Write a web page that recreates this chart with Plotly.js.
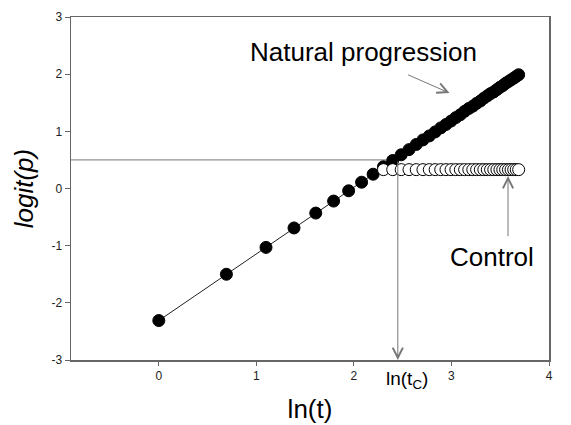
<!DOCTYPE html>
<html>
<head>
<meta charset="utf-8">
<script src="https://cdn.plot.ly/plotly-3.0.1.min.js"></script>
<style>html,body{margin:0;padding:0;background:#fff;}#chart{width:571px;height:425px;}</style>
</head>
<body>
<div id="chart"></div>
<script>
// ln(t) for t = 1..40
const lnT = [0, 0.693, 1.099, 1.386, 1.609, 1.792, 1.946, 2.079, 2.197, 2.303,
  2.398, 2.485, 2.565, 2.639, 2.708, 2.773, 2.833, 2.890, 2.944, 2.996,
  3.045, 3.091, 3.135, 3.178, 3.219, 3.258, 3.296, 3.332, 3.367, 3.401,
  3.434, 3.466, 3.497, 3.526, 3.555, 3.584, 3.611, 3.638, 3.664, 3.689];
const naturalLogit = [-2.31, -1.50, -1.03, -0.69, -0.43, -0.22, -0.04, 0.11, 0.25, 0.38,
  0.49, 0.59, 0.68, 0.77, 0.85, 0.92, 0.99, 1.06, 1.12, 1.18,
  1.24, 1.29, 1.35, 1.40, 1.44, 1.49, 1.53, 1.58, 1.62, 1.66,
  1.69, 1.73, 1.77, 1.80, 1.84, 1.87, 1.90, 1.93, 1.96, 1.99];
// control: t = 10..40
const controlLnT = lnT.slice(9);
const controlLogit = [0.33, 0.33, 0.33, 0.33, 0.33, 0.33, 0.33, 0.33, 0.33, 0.33,
  0.33, 0.33, 0.33, 0.33, 0.33, 0.33, 0.33, 0.33, 0.33, 0.33,
  0.33, 0.33, 0.33, 0.33, 0.33, 0.33, 0.33, 0.33, 0.33, 0.33, 0.33];
const xTicks = [0, 1, 2, 3, 4];
const yTicks = [-3, -2, -1, 0, 1, 2, 3];
const thresholdLogit = 0.5;
const lnTc = 2.45;
const xRange = [-0.9, 4];
const yRange = [-3, 3];

const traces = [
  {x: lnT, y: naturalLogit, type: 'scatter', mode: 'lines+markers',
   line: {color: '#222', width: 1},
   marker: {color: '#000', size: 12, line: {color: '#000', width: 1}}, hoverinfo: 'skip'},
  {x: controlLnT, y: controlLogit, type: 'scatter', mode: 'lines+markers',
   line: {color: '#222', width: 1},
   marker: {color: '#fff', size: 12, line: {color: '#000', width: 1}}, hoverinfo: 'skip'}
];

const layout = {
  width: 571, height: 425,
  margin: {l: 71, r: 22, t: 17, b: 65},
  paper_bgcolor: '#fff', plot_bgcolor: '#fff',
  showlegend: false,
  font: {family: 'Liberation Sans, Arial, sans-serif', color: '#000'},
  xaxis: {range: xRange, tickvals: xTicks, ticktext: xTicks.map(String),
    showgrid: false, zeroline: false, showline: true, linecolor: '#666', linewidth: 1.5,
    mirror: true, ticks: 'outside', ticklen: 4, tickcolor: '#666',
    tickfont: {size: 12, color: '#222'},
    title: {text: 'ln(t)', font: {size: 26, color: '#000'}, standoff: 18}},
  yaxis: {range: yRange, tickvals: yTicks, ticktext: yTicks.map(String),
    showgrid: false, zeroline: false, showline: true, linecolor: '#666', linewidth: 1.5,
    mirror: true, ticks: 'outside', ticklen: 5, tickcolor: '#666',
    tickfont: {size: 12, color: '#222'},
    title: {text: '<i>logit(p)</i>', font: {size: 26, color: '#000'}, standoff: 10}},
  shapes: [
    {type: 'line', xref: 'x', yref: 'y', x0: xRange[0], x1: lnTc, y0: thresholdLogit, y1: thresholdLogit,
     line: {color: '#777', width: 1}, layer: 'below'}
  ],
  annotations: [
    {x: lnTc, y: yRange[0], ax: lnTc, ay: thresholdLogit, xref: 'x', yref: 'y', axref: 'x', ayref: 'y',
     text: '', showarrow: true, arrowhead: 5, arrowsize: 2, arrowwidth: 1, arrowcolor: '#777'},
    {x: 2.54, y: yRange[0], xref: 'x', yref: 'y', yshift: -20, text: 'ln(t<sub>C</sub>)',
     showarrow: false, font: {size: 19, color: '#000'}},
    {x: 2.10, y: 2.39, xref: 'x', yref: 'y', text: 'Natural progression', showarrow: false,
     font: {size: 26, color: '#000'}},
    {x: 2.98, y: 1.67, ax: 2.54, ay: 2.0, xref: 'x', yref: 'y', axref: 'x', ayref: 'y',
     text: '', showarrow: true, arrowhead: 5, arrowsize: 2, arrowwidth: 1, arrowcolor: '#777'},
    {x: 3.42, y: -1.20, xref: 'x', yref: 'y', text: 'Control', showarrow: false,
     font: {size: 26, color: '#000'}},
    {x: 3.58, y: 0.22, ax: 3.58, ay: -0.86, xref: 'x', yref: 'y', axref: 'x', ayref: 'y',
     text: '', showarrow: true, arrowhead: 5, arrowsize: 2, arrowwidth: 1, arrowcolor: '#777'}
  ]
};

Plotly.newPlot('chart', traces, layout, {displayModeBar: false, staticPlot: true});
</script>
</body>
</html>
